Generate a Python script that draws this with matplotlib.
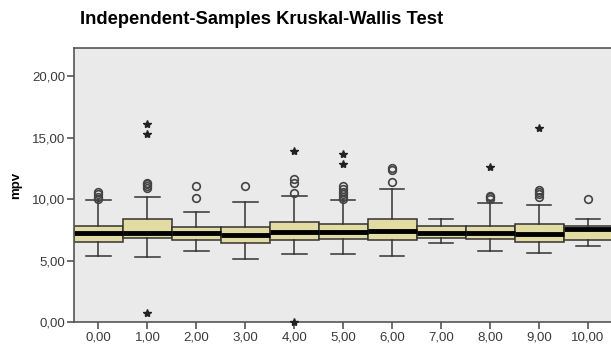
import numpy as np
import matplotlib
matplotlib.use('Agg')
import matplotlib.pyplot as plt

# group labels and box statistics
groups = [0, 1, 2, 3, 4, 5, 6, 7, 8, 9, 10]
tick_labels = ['0,00', '1,00', '2,00', '3,00', '4,00', '5,00',
               '6,00', '7,00', '8,00', '9,00', '10,00']
q1 = [6.53, 6.80, 6.67, 6.45, 6.67, 6.72, 6.67, 6.80, 6.72, 6.53, 6.67]
med = [7.25, 7.20, 7.20, 7.10, 7.35, 7.35, 7.43, 7.26, 7.26, 7.13, 7.54]
q3 = [7.83, 8.35, 7.75, 7.75, 8.16, 7.97, 8.35, 7.80, 7.80, 7.97, 7.80]
wlo = [5.39, 5.26, 5.80, 5.12, 5.50, 5.50, 5.37, 6.45, 5.80, 5.58, 6.18]
whi = [9.92, 10.19, 8.97, 9.73, 10.27, 9.92, 10.84, 8.37, 9.65, 9.51, 8.35]

# outliers (circles) and extremes (stars)
outliers = [
    [10.0, 10.2, 10.4, 10.55],
    [10.9, 11.05, 11.2, 11.3],
    [10.05, 11.08],
    [11.08],
    [10.46, 11.3, 11.6],
    [10.0, 10.2, 10.4, 10.6, 10.85, 11.05],
    [11.36, 12.4, 12.5],
    [],
    [10.0, 10.15, 10.25],
    [10.2, 10.4, 10.55, 10.7],
    [9.97],
]
extremes = [
    [],
    [0.7, 15.3, 16.1],
    [],
    [],
    [0.0, 13.9],
    [12.85, 13.7],
    [],
    [],
    [12.63],
    [15.75],
    [],
]

stats = []
for i in range(len(groups)):
    stats.append(dict(q1=q1[i], med=med[i], q3=q3[i],
                      whislo=wlo[i], whishi=whi[i], fliers=[]))

fig = plt.figure(figsize=(6.11, 3.54), dpi=100)
ax = fig.add_axes([74 / 611, 1 - 322 / 354, (612.5 - 74) / 611, (322 - 48) / 354])
ax.set_facecolor('#EAEAEA')

edge = '#333333'
ax.bxp(stats, positions=groups, widths=1.0, patch_artist=True,
       showfliers=False,
       boxprops=dict(facecolor='#E2DCA2', edgecolor=edge, linewidth=1.1),
       medianprops=dict(color='black', linewidth=3.5),
       whiskerprops=dict(color=edge, linewidth=1.1),
       capprops=dict(color=edge, linewidth=1.1),
       capwidths=0.5)

for x, ys in zip(groups, outliers):
    if ys:
        ax.plot([x] * len(ys), ys, linestyle='none', marker='o', ms=5.5,
                mfc='none', mec='#444444', mew=1.2, clip_on=False)
for x, ys in zip(groups, extremes):
    if ys:
        ax.plot([x] * len(ys), ys, linestyle='none', marker='*', ms=6,
                color='#222222', clip_on=False, zorder=5)

ax.set_xlim(-0.5, 10.5)
ax.set_ylim(0, 22.28)
ax.set_xticks(groups)
ax.set_xticklabels(tick_labels)
ax.set_yticks([0, 5, 10, 15, 20])
ax.set_yticklabels(['0,00', '5,00', '10,00', '15,00', '20,00'])

for s in ax.spines.values():
    s.set_color('#555555')
    s.set_linewidth(1.2)
ax.tick_params(axis='both', direction='out', length=5, width=1.2,
               color='#555555', labelsize=9.5, labelcolor='#3a3a3a', pad=1.5)
for lab in ax.get_xticklabels() + ax.get_yticklabels():
    lab.set_family('Liberation Sans')

ax.set_ylabel('mpv', fontsize=9.5, fontweight='bold', family='Liberation Sans',
              labelpad=7)
fig.text(262 / 611, 1 - 20 / 354, 'Independent-Samples Kruskal-Wallis Test',
         ha='center', va='center', fontsize=13.2, fontweight='bold',
         family='Liberation Sans')

fig.savefig('out.png', dpi=100)
